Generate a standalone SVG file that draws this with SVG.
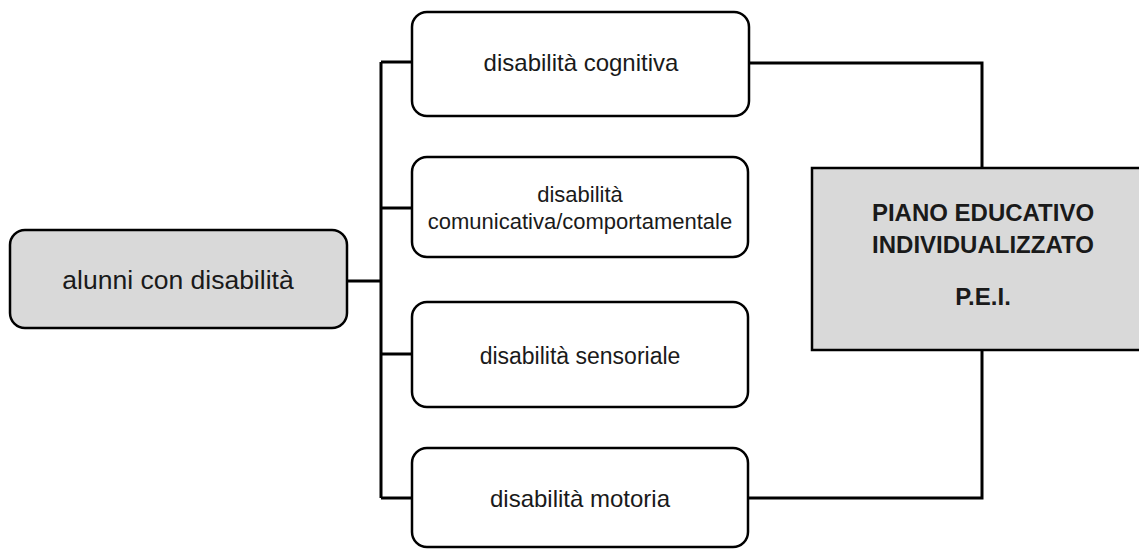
<svg xmlns="http://www.w3.org/2000/svg" width="1139" height="550" viewBox="0 0 1139 550">
<style>
.box{fill:#ffffff;stroke:#000;stroke-width:2.5}
.grey{fill:#d9d9d9;stroke:#000;stroke-width:2.5}
.t{font-family:"Liberation Sans",Arial,sans-serif;font-size:23px;fill:#1a1a1a;text-anchor:middle}
.b{font-family:"Liberation Sans",Arial,sans-serif;font-size:24px;font-weight:bold;fill:#1a1a1a;text-anchor:middle}
.c{fill:none;stroke:#000;stroke-width:3}
</style>
<rect width="1139" height="550" fill="#fff"/>
<g id="connectors">
<path class="c" d="M347 281 H381"/>
<path class="c" d="M381 62 V498"/>
<path class="c" d="M381 62 H413"/>
<path class="c" d="M381 208 H413"/>
<path class="c" d="M381 354 H413"/>
<path class="c" d="M381 498 H413"/>
<path class="c" d="M749 63 H982 V169"/>
<path class="c" d="M749 498 H982 V349"/>
</g>
<g id="alunni">
<rect class="grey" x="10" y="230" width="337" height="98" rx="15"/>
<text class="t" x="178" y="289" style="font-size:26.5px">alunni con disabilità</text>
</g>
<g id="cognitiva">
<rect class="box" x="412" y="12" width="337" height="104" rx="15"/>
<text class="t" x="581" y="71" style="font-size:24px">disabilità cognitiva</text>
</g>
<g id="comunicativa">
<rect class="box" x="412" y="157" width="336" height="100" rx="15"/>
<text class="t" x="580" y="202" style="font-size:22px">disabilità</text>
<text class="t" x="580" y="229" style="font-size:22px">comunicativa/comportamentale</text>
</g>
<g id="sensoriale">
<rect class="box" x="412" y="302" width="336" height="105" rx="15"/>
<text class="t" x="580" y="364">disabilità sensoriale</text>
</g>
<g id="motoria">
<rect class="box" x="412" y="448" width="336" height="99" rx="15"/>
<text class="t" x="580" y="507" style="font-size:24px">disabilità motoria</text>
</g>
<g id="pei">
<rect class="grey" x="812" y="168" width="330" height="182"/>
<text class="b" x="983" y="221">PIANO EDUCATIVO</text>
<text class="b" x="983" y="253">INDIVIDUALIZZATO</text>
<text class="b" x="983" y="305">P.E.I.</text>
</g>
</svg>
